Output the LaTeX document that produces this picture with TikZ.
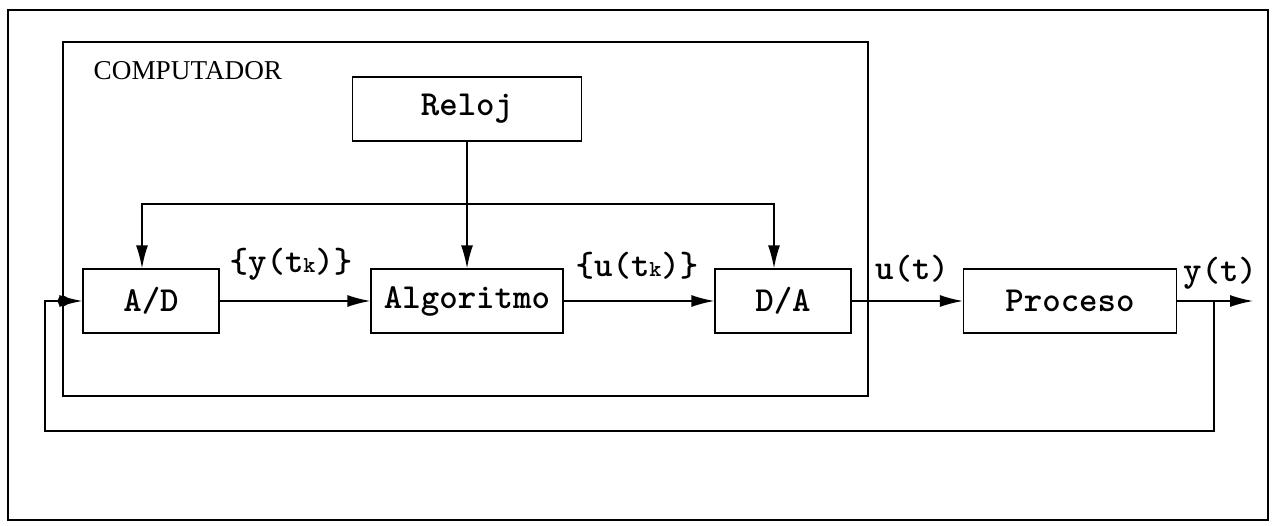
\documentclass[tikz,border=0pt]{standalone}
\usepackage{fontspec}
\setmainfont{Liberation Serif}
\usetikzlibrary{positioning, arrows.meta, calc}

\tikzset{
  block/.style={draw, inner sep=0pt, minimum height=1.28cm,
    font=\ttfamily\bfseries\fontsize{20}{22}\selectfont},
  signal/.style={font=\ttfamily\bfseries\fontsize{20}{22}\selectfont},
}
\newcommand{\subk}{{\fontsize{13}{13}\selectfont k}}

\begin{document}
\begin{tikzpicture}[x=0.02cm,y=-0.02cm,line width=0.8pt,>={Latex[length=4.6mm,width=2.4mm]}]
\useasboundingbox (0,0) rectangle (1273,526);
% outer frame and computer boundary
\draw (8,10) rectangle (1268,520);
\draw (63,42) rectangle (868,396);
\node[anchor=west, inner sep=0pt, font=\rmfamily\fontsize{15.5}{18}\selectfont] (comp) at (93,71) {COMPUTADOR};

% blocks
\node[block, minimum width=4.58cm] (reloj) at (467,109) {Reloj};
\node[block, minimum width=2.72cm] (ad) at (151,301) {A/D};
\node[block, minimum width=3.84cm] (alg) at (467,301) {Algoritmo};
\node[block, minimum width=2.72cm] (da) at (783,301) {D/A};
\node[block, minimum width=4.26cm] (proc) at (1070,301) {Proceso};

% signal labels
\node[signal] (yk) at (291,264) {\{y(t\subk)\}};
\node[signal] (uk) at (637,266) {\{u(t\subk)\}};
\node[signal] (ut) at (912,269) {u(t)};
\node[signal] (yt) at (1220,273) {y(t)};

% forward path
\draw[->] (ad.east) -- (alg.west);
\draw[->] (alg.east) -- (da.west);
\draw[->] (da.east) -- (proc.west);
\coordinate (yout) at (1253,301);
\draw[->] (proc.east) -- (yout);

% clock lines
\draw[->] (reloj.south) -- (alg.north);
\coordinate (tl) at (142,204);
\coordinate (tr) at (774,204);
\draw[<->] (tl |- ad.north) -- (tl) -- (tr) -- (tr |- da.north);

% feedback from y(t)
\coordinate (tap) at (1214,301);
\coordinate (dot) at (63,301);
\draw (tap) -- (1214,431) -- (45,431) -- (45,301) -- (dot);
\fill (dot) circle (5.5);
\draw[->] (dot) -- (ad.west);
\end{tikzpicture}
\end{document}
